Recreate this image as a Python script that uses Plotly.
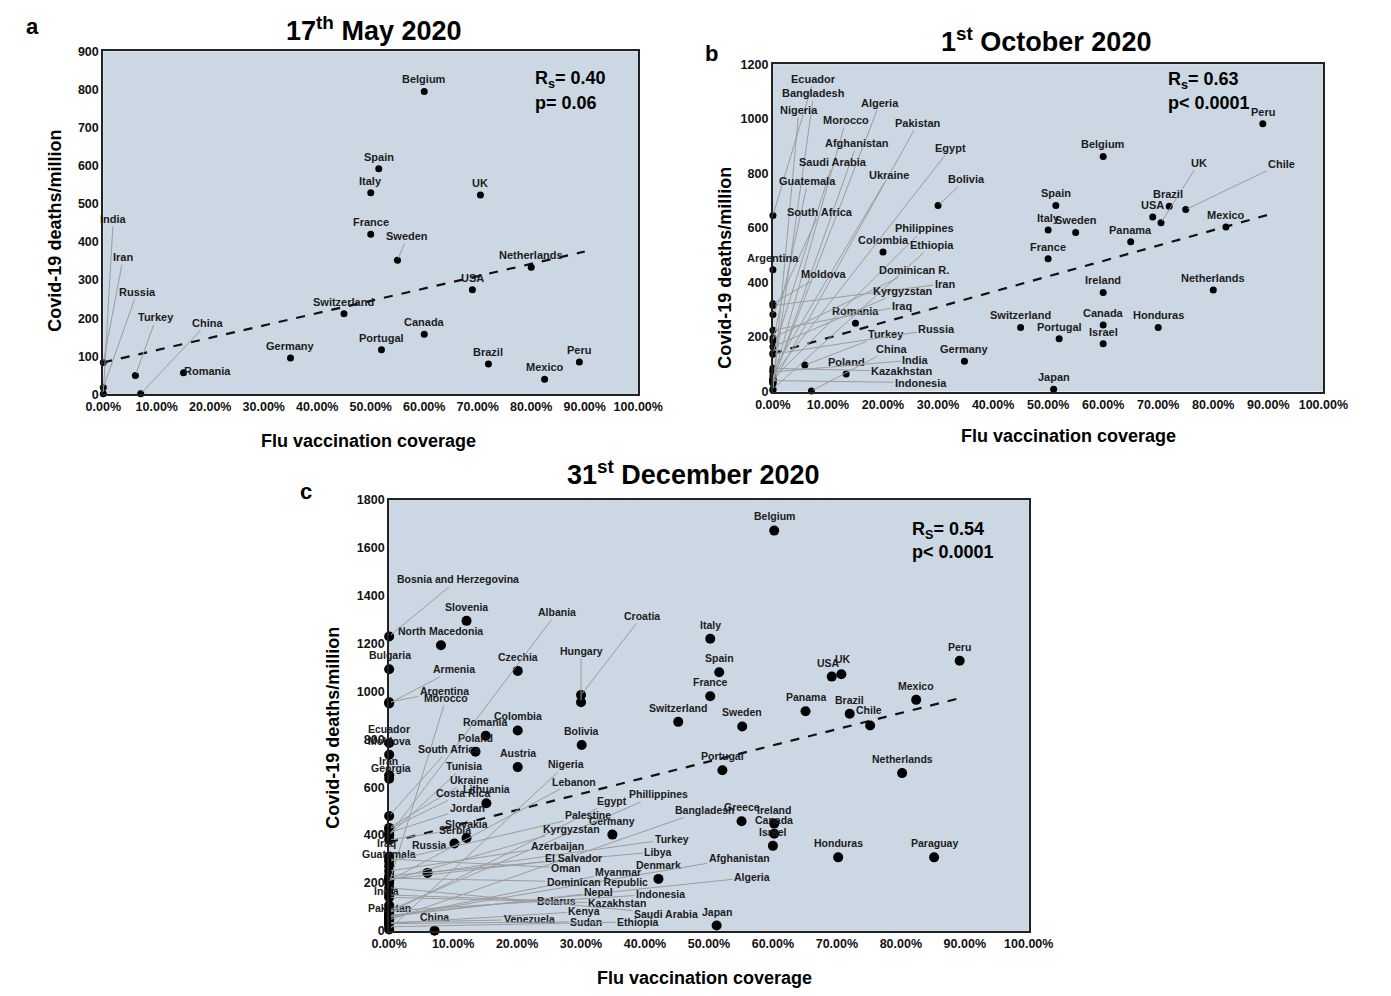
import plotly.graph_objects as go

# ---------------- DATA ----------------
# Panel a : 17th May 2020
names_a = ["Belgium", "Spain", "Italy", "UK", "France", "Sweden", "Netherlands", "USA",
           "Switzerland", "Canada", "Portugal", "Germany", "Romania", "Brazil", "Mexico",
           "Peru", "Turkey", "China", "India", "Iran", "Russia"]
cov_a = [60, 51.5, 50, 70.5, 50, 55, 80, 69, 45, 60, 52, 35, 15, 72, 82.5, 89, 6, 7, 0, 0, 0]
deaths_a = [795, 592, 529, 523, 420, 352, 334, 275, 212, 158, 117, 96, 57, 80, 40, 85, 50, 2, 2, 84, 18]
trend_a_x = [0, 90]
trend_a_y = [84, 375]

# Panel b : 1st October 2020
names_b = ["Peru", "Belgium", "UK", "Chile", "Brazil", "USA", "Mexico", "Spain", "Italy", "Sweden",
           "Panama", "France", "Netherlands", "Ireland", "Canada", "Honduras", "Israel", "Portugal",
           "Switzerland", "Japan", "Germany", "Bolivia", "Colombia", "Romania", "Poland", "Turkey",
           "China", "Ecuador", "Bangladesh", "Nigeria", "Algeria", "Morocco", "Pakistan",
           "Afghanistan", "Egypt", "Saudi Arabia", "Ukraine", "Guatemala", "South Africa",
           "Philippines", "Ethiopia", "Argentina", "Moldova", "Dominican R.", "Iran", "Kyrgyzstan",
           "Iraq", "Russia", "India", "Kazakhstan", "Indonesia"]
cov_b = [89, 60, 70.5, 75, 72, 69, 82.3, 51.4, 50, 55,
         65, 50, 80, 60, 60, 70, 60, 52,
         45, 51, 34.8, 30, 20, 15, 13.3, 5.8,
         7, 0, 0, 0, 0, 0, 0,
         0, 0, 0, 0, 0, 0,
         0, 0, 0, 0, 0, 0, 0,
         0, 0, 0, 0, 0]
deaths_b = [982, 862, 619, 667, 679, 640, 603, 682, 592, 583,
            549, 487, 372, 363, 244, 235, 175, 193,
            235, 8, 111, 682, 511, 250, 64, 97,
            2, 645, 31, 5, 40, 45, 30,
            37, 58, 140, 75, 185, 282,
            46, 9, 446, 322, 196, 315, 164,
            225, 137, 72, 85, 40]
trend_b_x = [0, 90]
trend_b_y = [140, 648]

# Panel c : 31st December 2020
names_c = ["Belgium", "Italy", "Spain", "France", "Switzerland", "Sweden", "Panama", "Brazil",
           "Chile", "USA", "UK", "Mexico", "Peru", "Netherlands", "Honduras", "Paraguay",
           "Portugal", "Greece", "Ireland", "Canada", "Israel", "Japan", "Germany", "Denmark",
           "Bolivia", "Hungary", "Croatia", "Czechia", "Colombia", "Austria", "Romania", "Poland",
           "Lithuania", "Slovenia", "North Macedonia", "Slovakia", "Russia", "Turkey", "China",
           "Bosnia and Herzegovina", "Bulgaria", "Armenia", "Argentina", "Morocco", "Albania",
           "Ecuador", "Moldova", "South Africa", "Iran", "Georgia", "Tunisia", "Nigeria",
           "Ukraine", "Lebanon", "Costa Rica", "Jordan", "Serbia", "Iraq", "Guatemala", "India",
           "Pakistan", "Egypt", "Phillippines", "Palestine", "Bangladesh", "Kyrgyzstan",
           "Azerbaijan", "Libya", "El Salvador", "Afghanistan", "Oman", "Myanmar",
           "Dominican Republic", "Algeria", "Nepal", "Indonesia", "Belarus", "Kazakhstan",
           "Kenya", "Saudi Arabia", "Venezuela", "Sudan", "Ethiopia"]
cov_c = [60.2, 50.2, 51.6, 50.2, 45.2, 55.2, 65.1, 72,
         75.2, 69.2, 70.7, 82.4, 89.2, 80.2, 70.2, 85.2,
         52.1, 55.1, 60.2, 60.2, 60, 51.2, 34.9, 42.1,
         30.1, 30, 30, 20.1, 20.1, 20.1, 15.1, 13.5,
         15.2, 12.1, 8.1, 12.1, 10.2, 6, 7.1,
         0, 0, 0, 0, 0, 0,
         0, 0, 0, 0, 0, 0, 0,
         0, 0, 0, 0, 0, 0, 0, 0,
         0, 0, 0, 0, 0, 0,
         0, 0, 0, 0, 0, 0,
         0, 0, 0, 0, 0, 0,
         0, 0, 0, 0, 0]
deaths_c = [1672, 1220, 1080, 980, 873, 854, 917, 907,
            858, 1062, 1072, 965, 1128, 659, 307, 307,
            671, 458, 448, 406, 355, 22, 402, 217,
            776, 955, 985, 1086, 837, 684, 815, 748,
            533, 1295, 1193, 388, 365, 242, 0,
            1230, 1093, 950, 955, 200, 400,
            785, 736, 480, 650, 635, 400, 6,
            430, 210, 425, 410, 380, 310, 270, 107,
            47, 75, 85, 290, 45, 210,
            250, 230, 215, 58, 300, 55,
            220, 65, 60, 83, 150, 140,
            31, 180, 35, 30, 17]
trend_c_x = [0, 89.2]
trend_c_y = [370, 972]

# ---------------- LABEL PLACEMENT (pixel offsets, leader line flag) ----------------
OFF_A = {"Sweden": (10, -24, True), "Romania": (24, -2, False), "Turkey": (21, -58, True),
         "China": (67, -71, True), "India": (10, -175, True), "Iran": (20, -105, True),
         "Russia": (34, -96, True)}
OFF_B = {"UK": (38, -60, True), "Chile": (96, -46, True), "Bolivia": (28, -26, True),
         "Turkey": (81, -31, True), "China": (80, -42, True), "Brazil": (-1, -12, False),
         "Ecuador": (41, -137, True), "Bangladesh": (41, -290, True), "Nigeria": (26, -280, True),
         "Algeria": (107, -278, True), "Morocco": (73, -259, True), "Pakistan": (145, -260, True),
         "Afghanistan": (84, -238, True), "Egypt": (178, -228, True),
         "Saudi Arabia": (60, -191, True), "Ukraine": (116, -196, True),
         "Guatemala": (35, -160, True), "South Africa": (47, -103, True),
         "Philippines": (152, -151, True), "Ethiopia": (159, -144, True),
         "Argentina": (0, -12, False), "Moldova": (51, -30, True),
         "Dominican R.": (141, -68, True), "Iran": (172, -22, True),
         "Kyrgyzstan": (130, -56, True), "Iraq": (129, -24, True), "Russia": (164, -25, True),
         "India": (143, -12, True), "Kazakhstan": (129, 3, True), "Indonesia": (148, 2, True)}
OFF_C = {"Belgium": (0, -15, False), "Chile": (-1, -15, False), "USA": (-3, -14, False),
         "UK": (2, -15, False), "Russia": (-25, 2, False), "Turkey": (244, -34, True),
         "Hungary": (0, -51, True), "Croatia": (61, -79, True),
         "Bosnia and Herzegovina": (69, -57, True), "Bulgaria": (1, -14, False),
         "Armenia": (65, -34, True), "Argentina": (55, -11, True), "Morocco": (57, -185, True),
         "Albania": (168, -223, True), "South Africa": (60, -67, True),
         "Iran": (-1, -14, False), "Georgia": (2, -11, False), "Tunisia": (75, -69, True),
         "Nigeria": (177, -165, True), "Ukraine": (80, -48, True), "Lebanon": (185, -99, True),
         "Costa Rica": (74, -36, True), "Jordan": (78, -25, True), "Serbia": (66, -10, True),
         "Iraq": (-3, -14, False), "Guatemala": (0, -12, False), "India": (-3, -14, False),
         "Pakistan": (0, -12, False), "Egypt": (223, -112, True),
         "Phillippines": (269, -116, True), "Palestine": (199, -46, True),
         "Bangladesh": (316, -110, True), "Kyrgyzstan": (182, -52, True),
         "Azerbaijan": (168, -25, True), "Libya": (269, -24, True),
         "El Salvador": (184, -21, True), "Afghanistan": (350, -59, True),
         "Oman": (177, 9, True), "Myanmar": (229, -46, True),
         "Dominican Republic": (208, 4, True), "Algeria": (363, -38, True),
         "Nepal": (209, -24, True), "Indonesia": (271, -17, True), "Belarus": (167, 6, True),
         "Kazakhstan": (228, 6, True), "Kenya": (195, -12, True),
         "Saudi Arabia": (277, 26, True), "Venezuela": (140, -3, True),
         "Sudan": (197, -2, True), "Ethiopia": (249, -5, True)}

# ---------------- FIGURE ----------------
W, H = 1391, 996
FONT = "Arial, Liberation Sans, sans-serif"
BG = "#cbd7e3"


def fx(p):
    return p / W


def fy(p):
    return 1 - p / H


panels = [
    dict(ax="", names=names_a, cov=cov_a, deaths=deaths_a, off=OFF_A, tx=trend_a_x, ty=trend_a_y,
         xpx=(88, 640), ypx=(45, 393), ymax=900, dtick=100, ms=7, lfs=11, ddef=-12),
    dict(ax="2", names=names_b, cov=cov_b, deaths=deaths_b, off=OFF_B, tx=trend_b_x, ty=trend_b_y,
         xpx=(779, 1347), ypx=(58, 390), ymax=1200, dtick=200, ms=7, lfs=11, ddef=-12),
    dict(ax="3", names=names_c, cov=cov_c, deaths=deaths_c, off=OFF_C, tx=trend_c_x, ty=trend_c_y,
         xpx=(383, 1043), ypx=(500, 937), ymax=1800, dtick=200, ms=10, lfs=10.5, ddef=-14),
]

fig = go.Figure()
annotations = []
layout_axes = {}

for p in panels:
    xr, yr = "x" + p["ax"], "y" + p["ax"]
    fig.add_trace(go.Scatter(x=p["tx"], y=p["ty"], mode="lines", xaxis=xr, yaxis=yr,
                             line=dict(color="#111111", width=2.2, dash="dash"),
                             hoverinfo="skip", showlegend=False))
    fig.add_trace(go.Scatter(x=p["cov"], y=p["deaths"], mode="markers", xaxis=xr, yaxis=yr,
                             marker=dict(color="#000000", size=p["ms"]), cliponaxis=False,
                             hovertext=p["names"], hoverinfo="text+x+y", showlegend=False))
    for name, xv, yv in zip(p["names"], p["cov"], p["deaths"]):
        dx, dy, leader = p["off"].get(name, (0, p["ddef"], False))
        base = dict(x=xv, y=yv, xref=xr, yref=yr, text=name,
                    font=dict(family=FONT, size=p["lfs"], color="#1c1c1c", weight="bold"))
        if leader:
            base.update(showarrow=True, ax=dx, ay=dy, arrowhead=0, arrowwidth=1,
                        arrowcolor="#9c9c9c", standoff=2)
        else:
            base.update(showarrow=False, xshift=dx, yshift=-dy)
        annotations.append(base)

    axis_common = dict(showgrid=False, zeroline=False, showline=True, mirror=True,
                       linecolor="#222222", linewidth=2, ticks="",
                       tickfont=dict(family=FONT, size=12.5, color="#111111", weight="bold"))
    layout_axes["xaxis" + p["ax"]] = dict(axis_common, domain=[fx(p["xpx"][0]), fx(p["xpx"][1])],
                                          range=[0, 100], dtick=10, tickformat=".2f",
                                          ticksuffix="%", anchor=yr)
    layout_axes["yaxis" + p["ax"]] = dict(axis_common, domain=[fy(p["ypx"][1]), fy(p["ypx"][0])],
                                          range=[0, p["ymax"]], dtick=p["dtick"], anchor=xr)


def paper_text(text, x, y, size, angle=0, xanchor="center"):
    annotations.append(dict(x=fx(x), y=fy(y), xref="paper", yref="paper", text=text,
                            showarrow=False, textangle=angle, xanchor=xanchor, yanchor="middle",
                            font=dict(family=FONT, size=size, color="#000000", weight="bold")))


# titles and panel letters
paper_text("17<sup>th</sup> May 2020", 367, 22, 27)
paper_text("1<sup>st</sup> October 2020", 1061, 33, 27)
paper_text("31<sup>st</sup> December 2020", 697, 473, 27)
paper_text("a", 15, 20, 22)
paper_text("b", 716, 47, 22)
paper_text("c", 297, 491, 22)
# axis titles
paper_text("Flu vaccination coverage", 362, 440, 18)
paper_text("Flu vaccination coverage", 1084, 435, 18)
paper_text("Flu vaccination coverage", 708, 985, 18)
paper_text("Covid-19 deaths/million", 38, 227, 18, -90)
paper_text("Covid-19 deaths/million", 730, 264, 18, -90)
paper_text("Covid-19 deaths/million", 325, 731, 18, -90)
# correlation statistics
paper_text("R<sub>s</sub>= 0.40", 531, 74, 18, xanchor="left")
paper_text("p= 0.06", 531, 97, 18, xanchor="left")
paper_text("R<sub>s</sub>= 0.63", 1185, 75, 18, xanchor="left")
paper_text("p< 0.0001", 1185, 97, 18, xanchor="left")
paper_text("R<sub>S</sub>= 0.54", 920, 531, 18, xanchor="left")
paper_text("p< 0.0001", 920, 553, 18, xanchor="left")

fig.update_layout(width=W, height=H, margin=dict(l=0, r=0, t=0, b=0),
                  paper_bgcolor="white", plot_bgcolor=BG, showlegend=False,
                  font=dict(family=FONT), annotations=annotations, **layout_axes)

fig.write_html("out.html")
